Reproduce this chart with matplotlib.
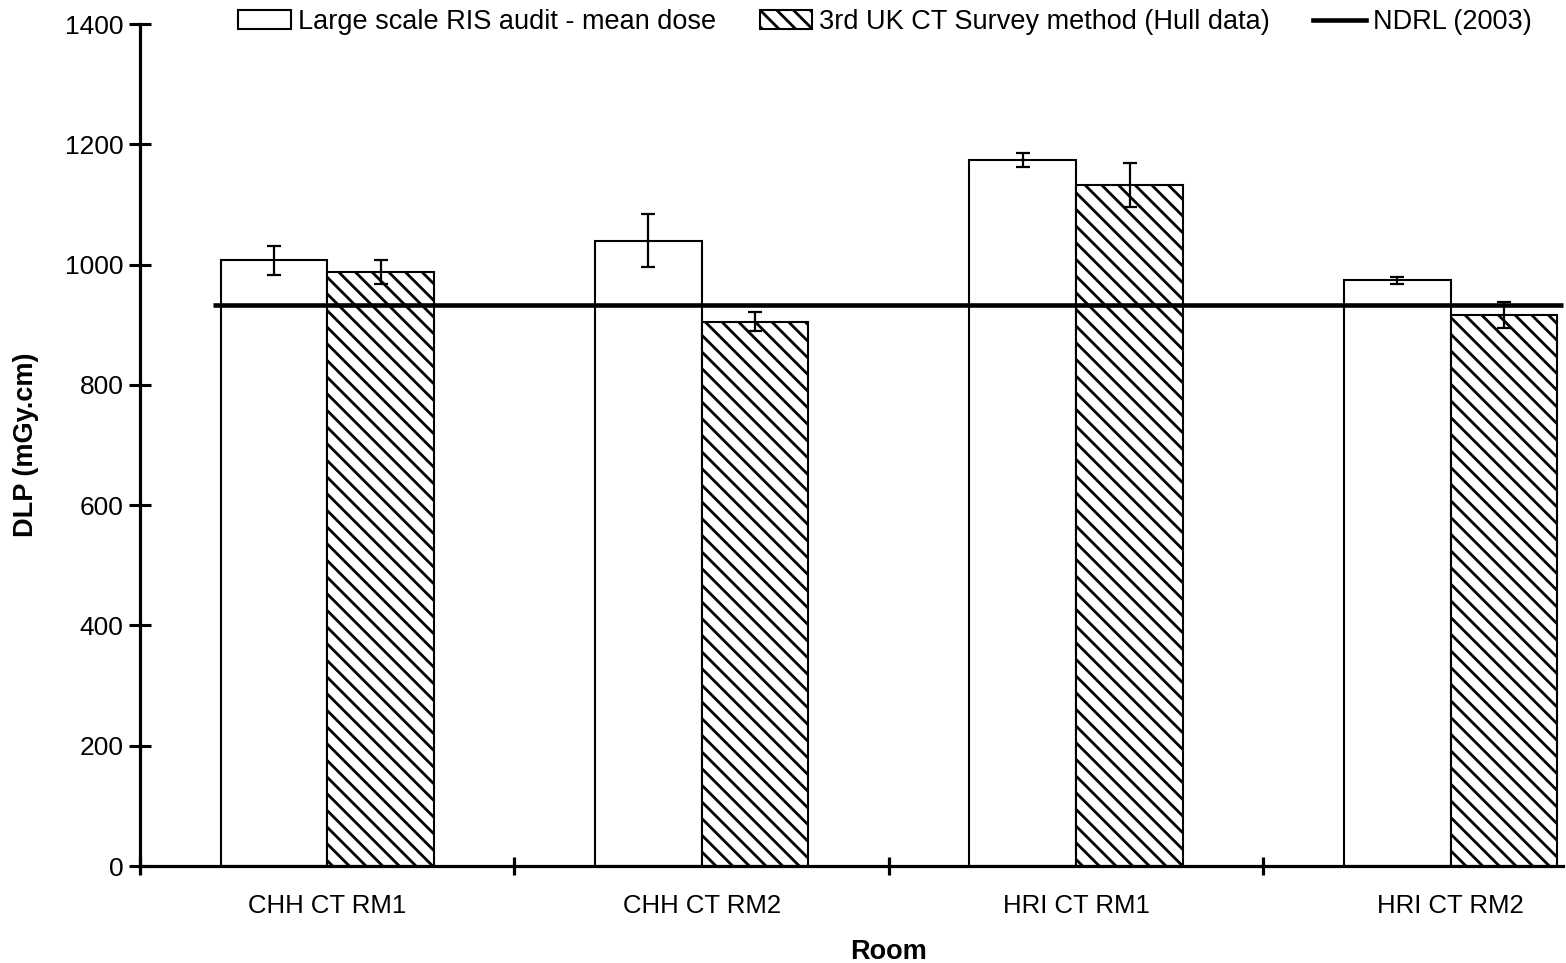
import numpy as np
import matplotlib
matplotlib.use("Agg")
import matplotlib.pyplot as plt
from matplotlib.patches import Patch
from matplotlib.lines import Line2D

plt.rcParams['font.family'] = ['Liberation Sans', 'DejaVu Sans']
plt.rcParams['hatch.linewidth'] = 2.0

# data
rooms = ["CHH CT RM1", "CHH CT RM2", "HRI CT RM1", "HRI CT RM2"]
ris_mean = [1007, 1040, 1174, 974]
ris_err = [24, 44, 12, 6]
survey_mean = [988, 905, 1132, 916]
survey_err = [20, 16, 37, 21]
ndrl = 932

series_names = ["Large scale RIS audit - mean dose",
                "3rd UK CT Survey method (Hull data)",
                "NDRL (2003)"]

fig = plt.figure(figsize=(15.66, 9.63), dpi=100)
ax = fig.add_axes([140/1566, 97/963, 1423/1566, 842/963])

x = np.arange(len(rooms))
w = 0.285

ax.bar(x - w/2, ris_mean, w, color="white", edgecolor="black", linewidth=1.5, zorder=2)
ax.bar(x + w/2, survey_mean, w, color="white", edgecolor="black", linewidth=1.5,
       hatch="\\\\", zorder=2)

ax.errorbar(x - w/2, ris_mean, yerr=ris_err, fmt="none", ecolor="black",
            elinewidth=1.6, capsize=4.7, capthick=1.6, zorder=4)
ax.errorbar(x + w/2, survey_mean, yerr=survey_err, fmt="none", ecolor="black",
            elinewidth=1.6, capsize=4.7, capthick=1.6, zorder=4)

# NDRL reference line
ax.plot([-0.305, 3.30], [ndrl, ndrl], color="black", linewidth=3.3,
        solid_capstyle="butt", zorder=3, clip_on=False)

ax.set_xlim(-0.5, 3.30)
ax.set_ylim(0, 1400)
ax.set_yticks(np.arange(0, 1401, 200))

ax.set_xticks(np.arange(-0.5, 3.0, 1.0))
ax.set_xticklabels([])
ax.set_xticks(x, minor=True)
ax.set_xticklabels(rooms, minor=True, fontsize=18.5)
ax.tick_params(axis="x", which="major", direction="inout", length=13, width=2.3)
ax.tick_params(axis="x", which="minor", length=0, pad=20)
ax.tick_params(axis="y", direction="inout", length=16, width=2.2, labelsize=19, pad=4)

for s in ["top", "right"]:
    ax.spines[s].set_visible(False)
ax.spines["left"].set_linewidth(2.3)
ax.spines["bottom"].set_linewidth(2.3)

ax.set_ylabel("DLP (mGy.cm)", fontsize=19.5, fontweight="bold")
ax.yaxis.set_label_coords(-0.071, 0.5)
ax.set_xlabel("Room", fontsize=19.5, fontweight="bold")
ax.xaxis.set_label_coords(0.526, -0.0867)

handles = [Patch(facecolor="white", edgecolor="black", linewidth=1.5),
           Patch(facecolor="white", edgecolor="black", linewidth=1.5, hatch="\\\\"),
           Line2D([], [], color="black", linewidth=3.3)]
fig.legend(handles, series_names, loc="center", bbox_to_anchor=(885/1566, 1 - 22/963),
           ncol=3, frameon=False, fontsize=19.5, handlelength=1.95, handleheight=0.7,
           handletextpad=0.25, columnspacing=1.6, borderpad=0, borderaxespad=0)

fig.savefig("out.png", dpi=100)
